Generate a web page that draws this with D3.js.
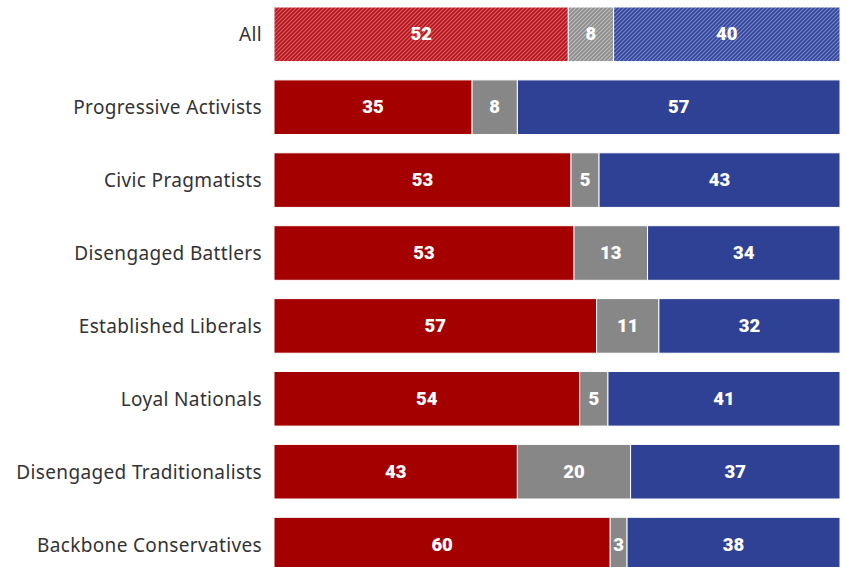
<!DOCTYPE html>
<html><head><meta charset="utf-8">
<script src="https://cdn.jsdelivr.net/npm/d3@7"></script>
<style>
html,body{margin:0;padding:0;background:#fff;overflow:hidden;}
svg{display:block;}
</style></head>
<body>
<svg id="chart" width="846" height="567"></svg>
<script>
const categories = ["All","Progressive Activists","Civic Pragmatists","Disengaged Battlers","Established Liberals","Loyal Nationals","Disengaged Traditionalists","Backbone Conservatives"];
const redValues  = [52,35,53,53,57,54,43,60];
const grayValues = [8,8,5,13,11,5,20,3];
const blueValues = [40,57,43,34,32,41,37,38];
const seriesKeys = ["red","gray","blue"];

const svg=d3.select("#chart");
const left=274,right=840;
const step=72.9,bw=54.6;
const y=d3.scaleBand().domain(categories).range([7,7+step*7+bw]).paddingInner((step-bw)/step).paddingOuter(0);
const colors={red:"#a50000",gray:"#878787",blue:"#2f4194"};
const hatchBase={red:"#b4161d",gray:"#8c8c8c",blue:"#34469c"};
const hatchLine={red:"#dc5a60",gray:"#bdbdbd",blue:"#7584c8"};

const defs=svg.append("defs");
seriesKeys.forEach(k=>{
  const p=defs.append("pattern").attr("id","h-"+k).attr("patternUnits","userSpaceOnUse")
    .attr("width",4).attr("height",4);
  p.append("rect").attr("width",4).attr("height",4).attr("fill",hatchBase[k]);
  p.append("path").attr("d","M-1,1 l2,-2 M0,4 l4,-4 M3,5 l2,-2")
    .attr("stroke",hatchLine[k]).attr("stroke-width",1.2);
});

const rows=categories.map((c,i)=>({cat:c,vals:{red:redValues[i],gray:grayValues[i],blue:blueValues[i]}}));

rows.forEach((r,i)=>{
  const total=r.vals.red+r.vals.gray+r.vals.blue;
  const x=d3.scaleLinear().domain([0,total]).range([left,right]);
  const stack=d3.stack().keys(seriesKeys)([r.vals]);
  const g=svg.append("g");
  stack.forEach(s=>{
    const k=s.key, d=s[0];
    const x0=x(d[0]),x1=x(d[1]);
    g.append("rect").attr("x",x0).attr("y",y(r.cat)).attr("width",x1-x0).attr("height",y.bandwidth())
      .attr("fill",i===0?`url(#h-${k})`:colors[k])
      .attr("stroke","#fff").attr("stroke-width",1);
    g.append("text").attr("x",(x0+x1)/2).attr("y",y(r.cat)+y.bandwidth()/2)
      .attr("text-anchor","middle").attr("dominant-baseline","central")
      .attr("fill","#fff").attr("font-family","Roboto, 'Liberation Sans', sans-serif")
      .attr("font-weight",900).attr("font-size",18.5).text(r.vals[k]);
  });
  svg.append("text").attr("x",262).attr("y",y(r.cat)+y.bandwidth()/2)
    .attr("text-anchor","end").attr("dominant-baseline","central")
    .attr("fill","#333").attr("font-family","'Noto Sans', sans-serif")
    .attr("font-size",19).attr("letter-spacing",0.35).text(r.cat);
});
</script>
</body></html>
